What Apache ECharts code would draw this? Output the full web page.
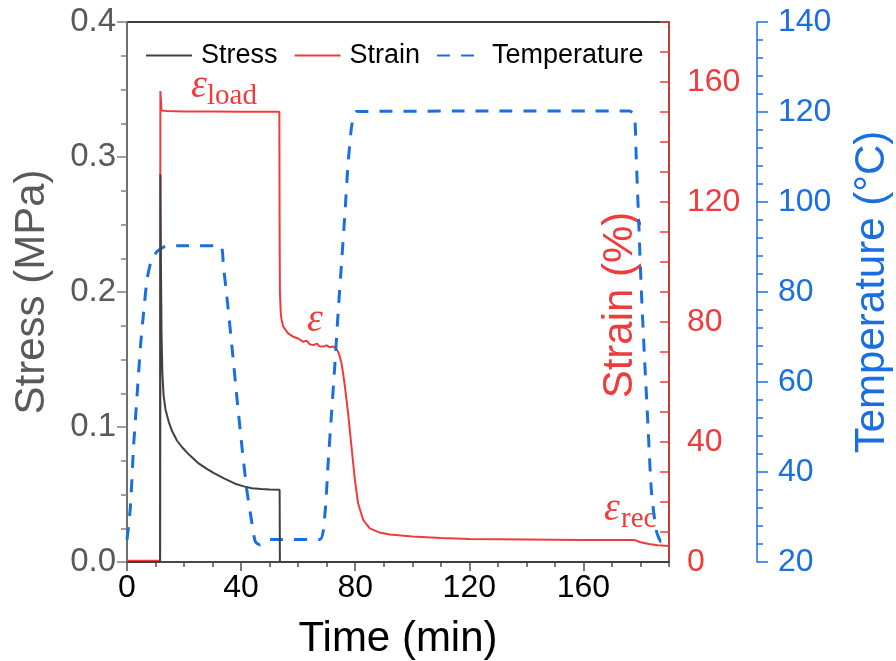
<!DOCTYPE html>
<html>
<head>
<meta charset="utf-8">
<script src="https://cdn.jsdelivr.net/npm/echarts@6/dist/echarts.min.js"></script>
<style>
  html, body { margin: 0; padding: 0; background: #fff; }
  #chart { width: 896px; height: 661px; }
</style>
</head>
<body>
<div id="chart"></div>
<script>
// Creep / shape-recovery test: stress, strain and temperature against time
const stressTime = [0, 11.6, 11.7, 11.9, 12.1, 12.4, 12.8, 13.5, 14.6, 15.8, 17.5, 19.3, 22, 25.1, 28, 30.3, 34, 37.9, 40.9, 43.8, 47, 50, 53.5, 53.6, 190];
const stressMPa  = [0, 0, 0.287, 0.22, 0.17, 0.140, 0.124, 0.113, 0.104, 0.097, 0.090, 0.085, 0.079, 0.073, 0.069, 0.066, 0.062, 0.058, 0.056, 0.0546, 0.054, 0.0537, 0.0535, 0, 0];

const strainTime = [0, 11.6, 11.7, 12.1, 14, 20, 30, 40, 53.4, 53.5, 53.6, 53.9, 54.2, 54.8, 56.5, 58.2, 60, 61.8, 63, 64, 65.3, 66.5, 67.5, 68.8, 70, 71, 72.3, 73.2, 74, 74.6, 75.2, 75.8, 76.4, 77.5, 78.7, 79.9, 81, 82.8, 85.1, 88.6, 92.1, 100, 110, 120, 140, 160, 178, 180, 183, 186, 190];
const strainPct  = [0.4, 0.4, 157, 150.5, 150.3, 150.2, 150.2, 150.1, 150.1, 110, 90, 83, 80.7, 78.4, 76.2, 75.1, 74.5, 73.4, 73.8, 72.6, 72.3, 72.8, 71.9, 71.8, 72.2, 71.6, 71.8, 71.2, 70.1, 68.5, 66.2, 62.5, 58.4, 49.6, 38.4, 27.3, 19.6, 14, 11.2, 9.8, 9.2, 8.5, 8.0, 7.7, 7.5, 7.3, 7.3, 6.6, 6.0, 5.6, 5.3];

const tempTime = [0, 1.2, 2.3, 3.5, 4.7, 5.8, 7, 8.4, 10.5, 13.4, 20, 32.7, 33.8, 35, 36.8, 38.5, 40.3, 42, 43.8, 45, 46.7, 48.5, 50.2, 67.6, 69.4, 70.5, 71.7, 72.9, 74, 75.2, 76.4, 77.5, 78.7, 79.5, 80.4, 120, 176.2, 177.9, 178.5, 179.4, 180.3, 181.4, 182.6, 183.8, 185.5, 187.3, 189.5, 190];
const tempC    = [24.9, 32.3, 45.6, 56.7, 67.8, 75.3, 82.7, 86.7, 89, 90.1, 90.3, 90.3, 85.6, 79, 67.8, 56.7, 45.6, 36, 28.6, 24.5, 23.8, 24.6, 25, 25, 30.8, 41.9, 53, 64.2, 75.3, 86.4, 97.5, 108.6, 116.7, 119, 120.1, 120.2, 120.2, 119.2, 110, 95.3, 80.4, 65.6, 50.8, 36, 27.1, 24.5, 25.6, 25.5];

const timeTicks   = [0, 40, 80, 120, 160];
const strainTicks = [0, 40, 80, 120, 160];
const seriesNames = ['Stress', 'Strain', 'Temperature'];

const zip = (xs, ys) => xs.map((x, i) => [x, ys[i]]);

const FONT = "'Liberation Sans', Arial, sans-serif";
const SERIF = "'Liberation Serif', 'Times New Roman', serif";
const GREY = '#595959';
const RED = '#ef3b3b';
const BLUE = '#1a6fe0';

const chart = echarts.init(document.getElementById('chart'), null, { renderer: 'canvas' });

chart.setOption({
  animation: false,
  backgroundColor: '#fff',
  textStyle: { fontFamily: FONT },
  grid: {
    left: 127, top: 22, width: 542, height: 540,
    outerBoundsMode: 'none', containLabel: false,
    show: true, borderColor: '#000', borderWidth: 1.5, backgroundColor: 'transparent'
  },
  legend: {
    data: seriesNames,
    left: 140, top: 37,
    itemWidth: 46, itemHeight: 14, itemGap: 16,
    itemStyle: { opacity: 0 },
    textStyle: { fontSize: 27, color: '#000', fontFamily: FONT, padding: [0, 0, 0, 4] }
  },
  xAxis: [
    {
      type: 'value', min: 0, max: 190, interval: 40,
      name: 'Time (min)', nameLocation: 'middle', nameGap: 56,
      nameTextStyle: { fontSize: 42, color: '#000', fontFamily: FONT },
      axisLine: { show: true, onZero: false, lineStyle: { color: '#4d4d4d', width: 1.5 } },
      axisTick: { show: true, length: 9, customValues: timeTicks, lineStyle: { color: '#4d4d4d', width: 1.5 } },
      axisLabel: { customValues: timeTicks, fontSize: 32, color: '#000', margin: 10, fontFamily: FONT },
      splitLine: { show: false }
    },
    {
      type: 'value', min: 0, max: 190, interval: 10, gridIndex: 0, position: 'bottom',
      axisLine: { show: false, onZero: false },
      axisTick: { show: true, length: 5, lineStyle: { color: '#4d4d4d', width: 1.5 } },
      axisLabel: { show: false },
      splitLine: { show: false }
    }
  ],
  yAxis: [
    {
      type: 'value', position: 'left', min: 0, max: 0.4, interval: 0.1,
      name: 'Stress (MPa)', nameLocation: 'middle', nameGap: 74,
      nameTextStyle: { fontSize: 42, color: GREY, fontFamily: FONT },
      axisLine: { show: true, onZero: false, lineStyle: { color: '#808080', width: 1.5 } },
      axisTick: { show: true, length: 10, lineStyle: { color: '#808080', width: 1.5 } },
      minorTick: { show: true, splitNumber: 4, length: 6, lineStyle: { color: '#808080', width: 1.5 } },
      axisLabel: { fontSize: 33, color: GREY, margin: 11, fontFamily: FONT, formatter: v => v.toFixed(1) },
      splitLine: { show: false }
    },
    {
      type: 'value', position: 'right', min: 0, max: 180, interval: 10,
      axisLine: { show: true, onZero: false, lineStyle: { color: RED, width: 1.5 } },
      axisTick: { show: true, inside: true, length: 9, lineStyle: { color: RED, width: 1.5 } },
      axisLabel: { customValues: strainTicks, fontSize: 32, color: RED, margin: 18, fontFamily: FONT },
      splitLine: { show: false }
    },
    {
      type: 'value', position: 'right', offset: 88, min: 20, max: 140, interval: 20,
      name: 'Temperature (°C)', nameLocation: 'middle', nameGap: 94, nameRotate: 90,
      nameTextStyle: { fontSize: 42, color: BLUE, fontFamily: FONT },
      axisLine: { show: true, onZero: false, lineStyle: { color: BLUE, width: 1.5 } },
      axisTick: { show: true, length: 11, lineStyle: { color: BLUE, width: 1.5 } },
      minorTick: { show: true, splitNumber: 5, length: 6, lineStyle: { color: BLUE, width: 1.5 } },
      axisLabel: { fontSize: 32, color: BLUE, margin: 21, fontFamily: FONT },
      splitLine: { show: false }
    }
  ],
  series: [
    {
      name: 'Strain', type: 'line', xAxisIndex: 0, yAxisIndex: 1,
      data: zip(strainTime, strainPct), symbol: 'none', z: 2,
      lineStyle: { color: RED, width: 2 }, itemStyle: { color: RED }
    },
    {
      name: 'Temperature', type: 'line', xAxisIndex: 0, yAxisIndex: 2,
      data: zip(tempTime, tempC), symbol: 'none', z: 3, smooth: 0.2,
      lineStyle: { color: BLUE, width: 3, type: [13, 11] }, itemStyle: { color: BLUE }
    },
    {
      name: 'Stress', type: 'line', xAxisIndex: 0, yAxisIndex: 0,
      data: zip(stressTime, stressMPa), symbol: 'none', z: 4,
      lineStyle: { color: '#404040', width: 2 }, itemStyle: { color: '#404040' }
    }
  ],
  graphic: [
    // strain axis title, drawn inside the plot next to the right axis
    { type: 'text', x: 620, y: 305, rotation: Math.PI / 2,
      style: { text: 'Strain (%)', fontSize: 42, fontFamily: FONT, fill: RED, align: 'center', verticalAlign: 'middle' } },
    // strain labels: loading, fixed and recovered
    { type: 'text', x: 199, y: 86, style: { text: 'ε', fontSize: 40, fontStyle: 'italic', fontFamily: SERIF, fill: RED, align: 'center', verticalAlign: 'middle' } },
    { type: 'text', x: 207, y: 96, style: { text: 'load', fontSize: 29, fontFamily: SERIF, fill: RED, align: 'left', verticalAlign: 'middle' } },
    { type: 'text', x: 315, y: 320, style: { text: 'ε', fontSize: 40, fontStyle: 'italic', fontFamily: SERIF, fill: RED, align: 'center', verticalAlign: 'middle' } },
    { type: 'text', x: 612, y: 509, style: { text: 'ε', fontSize: 40, fontStyle: 'italic', fontFamily: SERIF, fill: RED, align: 'center', verticalAlign: 'middle' } },
    { type: 'text', x: 621, y: 519, style: { text: 'rec', fontSize: 29, fontFamily: SERIF, fill: RED, align: 'left', verticalAlign: 'middle' } }
  ]
});
</script>
</body>
</html>
